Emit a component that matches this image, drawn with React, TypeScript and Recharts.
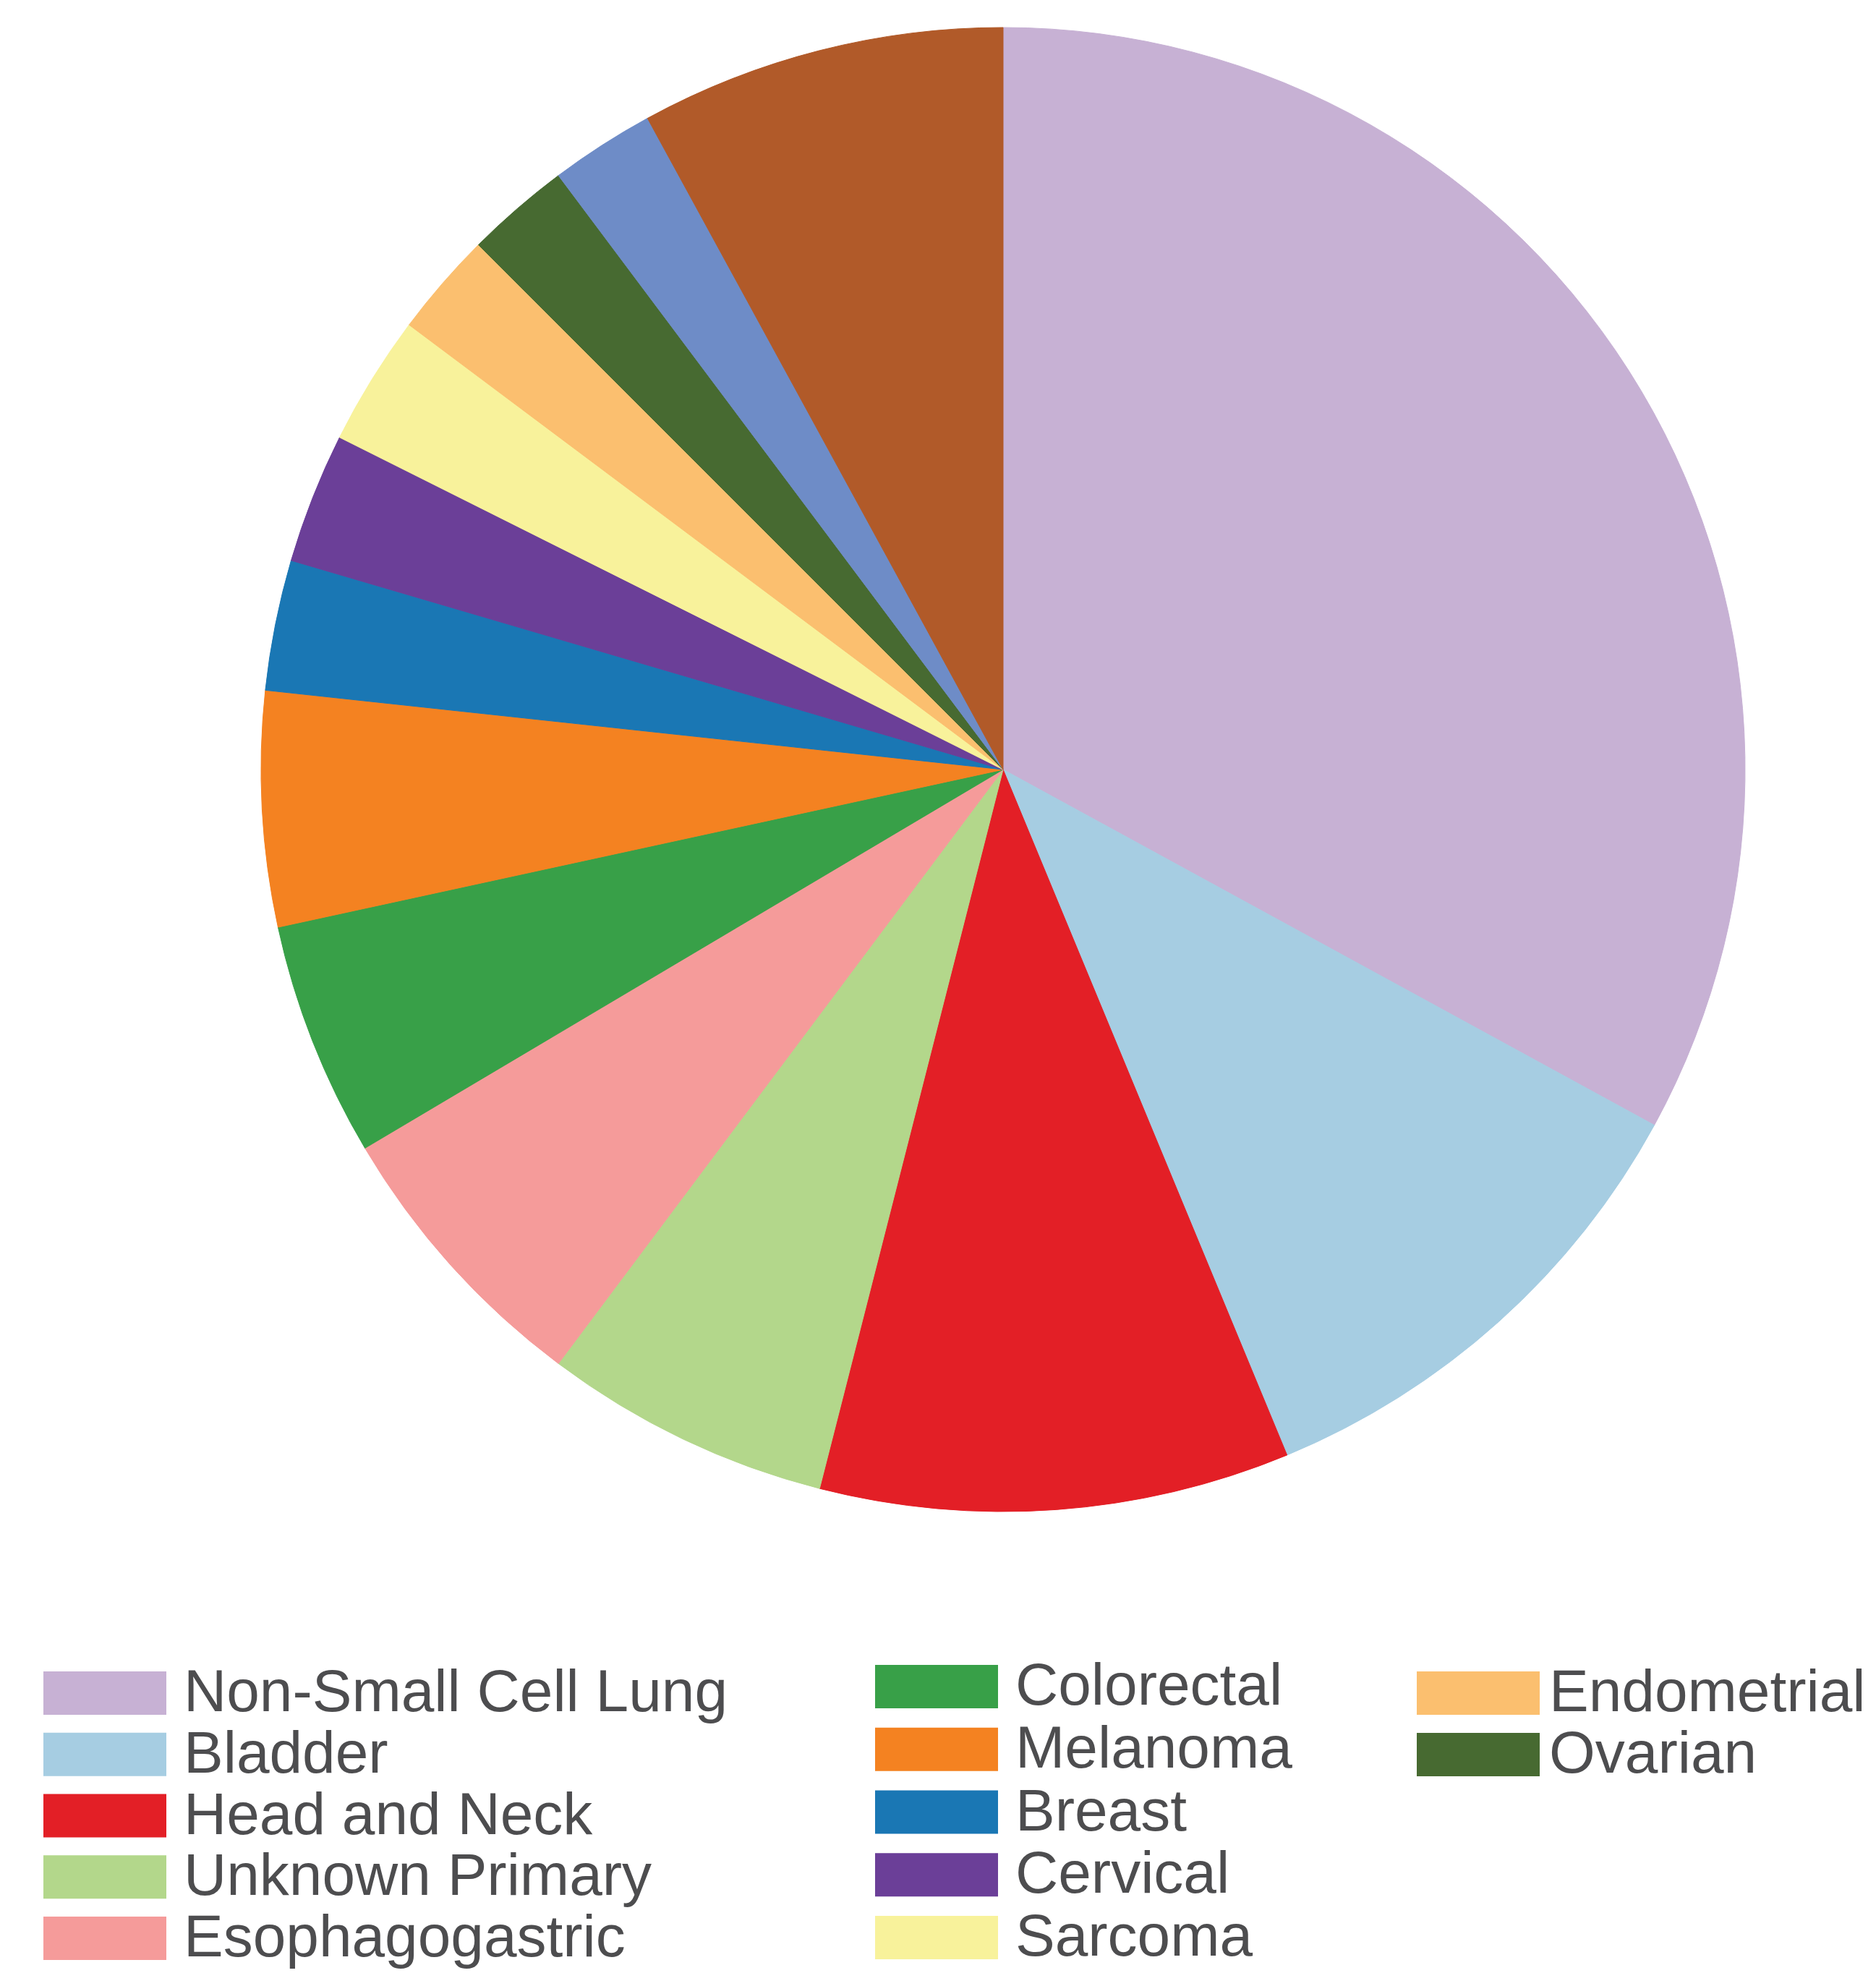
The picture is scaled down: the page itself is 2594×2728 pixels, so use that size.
import { PieChart, Pie, Cell, Legend } from 'recharts';

document.body.style.margin = '0';

// patient counts per tumour type, clockwise from 12 o'clock
const categories = [
  'Non-Small Cell Lung',
  'Bladder',
  'Head and Neck',
  'Unknown Primary',
  'Esophagogastric',
  'Colorectal',
  'Melanoma',
  'Breast',
  'Cervical',
  'Sarcoma',
  'Endometrial',
  'Ovarian',
  'Other A',
  'Other B',
];
const counts = [58, 19, 18, 11, 11, 9, 9, 5, 5, 5, 4, 4, 4, 14];
const colors = [
  '#c7b1d4',
  '#a6cde2',
  '#e31f26',
  '#b3d78b',
  '#f59b9a',
  '#38a048',
  '#f48221',
  '#1a77b4',
  '#6b3f98',
  '#f8f29b',
  '#fbbf6f',
  '#476a31',
  '#6e8cc7',
  '#b15a29',
];
// only these show up in the legend
const legendLabels = categories.slice(0, 12);

const data = categories.map((name, i) => ({ name, value: counts[i] }));

const FONT = '"Liberation Sans", Arial, sans-serif';

// legend columns: swatch x, text x, first row top, row step
const columns = [
  { sx: 60, tx: 254, top: 51, step: 84.75, rows: 5 },
  { sx: 1210, tx: 1404, top: 42, step: 86.75, rows: 5 },
  { sx: 1959, tx: 2142, top: 51, step: 85, rows: 2 },
];

function renderLegend() {
  const items: JSX.Element[] = [];
  let idx = 0;
  columns.forEach((col, c) => {
    for (let r = 0; r < col.rows && idx < legendLabels.length; r++, idx++) {
      const y = col.top + r * col.step;
      items.push(
        <g key={`${c}-${r}`}>
          <rect x={col.sx} y={y} width={170} height={60} fill={colors[idx]} />
          <text
            x={col.tx}
            y={y + 55}
            fontSize={82}
            fontFamily={FONT}
            fill="#4d4d4f"
          >
            {legendLabels[idx]}
          </text>
        </g>
      );
    }
  });
  return (
    <svg width={2594} height={468} style={{ display: 'block' }}>
      {items}
    </svg>
  );
}

export default function App() {
  return (
    <div style={{ width: 2594, height: 2728, background: '#fff' }}>
      <PieChart width={2594} height={2728} margin={{ top: 0, right: 0, bottom: 0, left: 0 }}>
        <Pie
          data={data}
          dataKey="value"
          nameKey="name"
          cx={1387}
          cy={1064}
          outerRadius={1026}
          startAngle={90}
          endAngle={-270}
          isAnimationActive={false}
        >
          {data.map((d, i) => (
            <Cell key={d.name} fill={colors[i]} stroke={colors[i]} strokeWidth={1} />
          ))}
        </Pie>
        <Legend
          content={renderLegend}
          wrapperStyle={{ position: 'absolute', left: 0, top: 2260, width: 2594, height: 468 }}
        />
      </PieChart>
    </div>
  );
}
